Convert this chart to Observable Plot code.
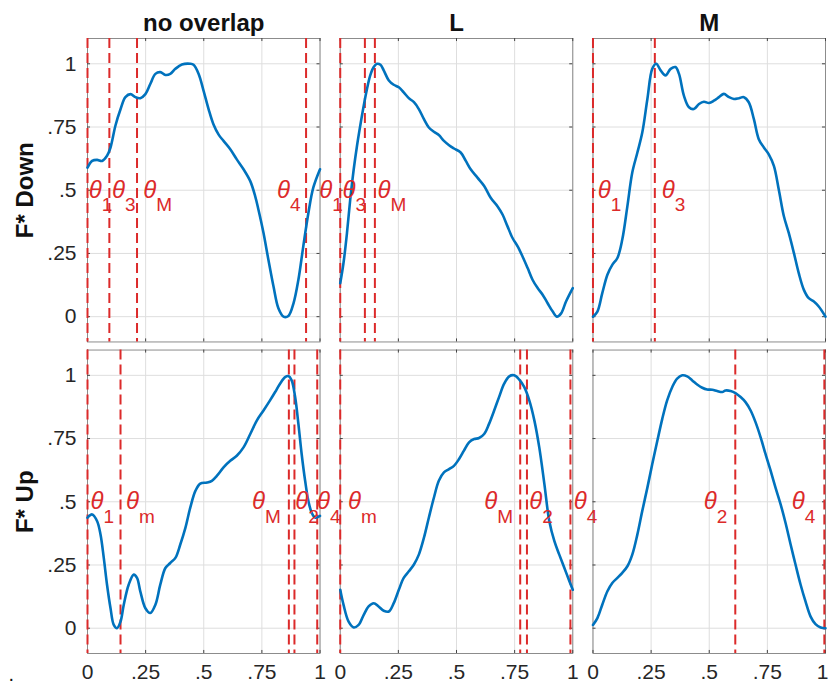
<!DOCTYPE html>
<html><head><meta charset="utf-8">
<script src="https://cdn.jsdelivr.net/npm/d3@7"></script>
<script src="https://cdn.jsdelivr.net/npm/@observablehq/plot@0.6"></script>
<style>body{margin:0;background:#fff} #chart{width:829px;height:688px}</style>
</head><body><div id="chart"></div>
<script>
// ---- categories ----
const cols = ["no overlap", "L", "M"];
const rows = ["F* Down", "F* Up"];

// ---- ticks ----
const xTicks = [0, 0.25, 0.5, 0.75, 1];
const xTickLabels = ["0", ".25", ".5", ".75", "1"];
const yTicks = [0, 0.25, 0.5, 0.75, 1];
const yTickLabels = ["0", ".25", ".5", ".75", "1"];
const xDomain = [0, 1];
const yDomain = [-0.1, 1.1];

// ---- curves (normalized force vs normalized angle) ----
const noOverlapDownX = [0,0.02,0.041,0.063,0.084,0.099,0.12,0.142,0.163,0.185,0.206,0.227,0.249,0.27,0.292,0.313,0.335,0.356,0.378,0.406,0.442,0.456,0.478,0.499,0.521,0.542,0.564,0.585,0.614,0.642,0.671,0.7,0.721,0.735,0.757,0.778,0.8,0.821,0.843,0.864,0.886,0.907,0.928,0.95,0.971,1];
const noOverlapDownY = [0.589,0.616,0.62,0.616,0.636,0.669,0.755,0.82,0.868,0.88,0.868,0.864,0.88,0.92,0.96,0.967,0.956,0.96,0.98,0.997,1.0,0.996,0.96,0.894,0.82,0.76,0.72,0.695,0.662,0.622,0.583,0.536,0.477,0.424,0.331,0.225,0.119,0.033,0.0,0.003,0.053,0.146,0.278,0.41,0.51,0.583];

const lDownX = [0,0.014,0.029,0.043,0.058,0.072,0.086,0.101,0.115,0.129,0.144,0.158,0.173,0.187,0.209,0.23,0.252,0.273,0.295,0.317,0.338,0.36,0.381,0.403,0.424,0.446,0.468,0.489,0.518,0.54,0.561,0.59,0.619,0.647,0.676,0.698,0.719,0.741,0.763,0.784,0.806,0.827,0.849,0.871,0.892,0.914,0.932,0.95,0.971,1];
const lDownY = [0.132,0.212,0.331,0.464,0.583,0.675,0.755,0.834,0.9,0.954,0.987,1.0,0.996,0.974,0.934,0.917,0.907,0.887,0.864,0.848,0.821,0.781,0.748,0.731,0.718,0.695,0.678,0.665,0.649,0.616,0.583,0.55,0.517,0.47,0.437,0.404,0.358,0.311,0.278,0.238,0.192,0.146,0.113,0.086,0.053,0.02,0,0.013,0.06,0.113];

const mDownX = [0,0.019,0.04,0.062,0.083,0.105,0.126,0.148,0.169,0.191,0.212,0.234,0.255,0.272,0.291,0.312,0.334,0.355,0.37,0.391,0.413,0.434,0.456,0.477,0.499,0.52,0.542,0.563,0.585,0.606,0.628,0.649,0.67,0.692,0.713,0.735,0.756,0.778,0.799,0.821,0.842,0.864,0.885,0.907,0.928,0.95,0.971,1];
const mDownY = [0,0.02,0.093,0.166,0.205,0.232,0.305,0.437,0.57,0.649,0.728,0.861,0.98,1,0.974,0.954,0.98,0.987,0.96,0.874,0.828,0.821,0.841,0.85,0.845,0.854,0.868,0.881,0.868,0.861,0.864,0.868,0.848,0.781,0.702,0.669,0.642,0.596,0.503,0.397,0.331,0.252,0.172,0.106,0.073,0.06,0.04,0];

const noOverlapUpX = [0,0.02,0.041,0.056,0.07,0.084,0.099,0.113,0.127,0.142,0.156,0.177,0.199,0.213,0.227,0.249,0.27,0.292,0.313,0.335,0.356,0.378,0.399,0.421,0.442,0.464,0.485,0.514,0.535,0.557,0.585,0.614,0.642,0.671,0.7,0.728,0.757,0.785,0.807,0.828,0.85,0.864,0.878,0.893,0.907,0.921,0.936,0.95,0.964,0.979,1];
const noOverlapUpY = [0.437,0.45,0.424,0.371,0.278,0.172,0.079,0.013,0,0.026,0.093,0.172,0.212,0.199,0.146,0.079,0.06,0.093,0.172,0.238,0.258,0.278,0.331,0.397,0.477,0.543,0.572,0.576,0.583,0.603,0.636,0.662,0.682,0.715,0.768,0.821,0.861,0.901,0.934,0.967,0.993,0.997,0.98,0.914,0.808,0.689,0.583,0.503,0.457,0.437,0.444];

const lUpX = [0,0.014,0.036,0.058,0.079,0.101,0.122,0.144,0.165,0.187,0.209,0.23,0.252,0.273,0.295,0.317,0.338,0.36,0.381,0.403,0.424,0.446,0.468,0.489,0.511,0.532,0.554,0.576,0.597,0.619,0.64,0.662,0.683,0.705,0.727,0.748,0.77,0.791,0.813,0.835,0.856,0.878,0.899,0.921,0.942,0.964,0.986,1];
const lUpY = [0.152,0.093,0.026,0.003,0.013,0.053,0.086,0.099,0.086,0.069,0.066,0.099,0.152,0.199,0.225,0.252,0.291,0.358,0.437,0.517,0.583,0.616,0.629,0.642,0.669,0.702,0.735,0.748,0.752,0.768,0.808,0.861,0.914,0.967,0.996,1,0.983,0.954,0.901,0.821,0.715,0.57,0.424,0.344,0.291,0.238,0.185,0.152];

const mUpX = [0,0.019,0.04,0.062,0.083,0.105,0.126,0.148,0.169,0.191,0.212,0.234,0.255,0.277,0.298,0.319,0.341,0.362,0.384,0.405,0.427,0.448,0.47,0.491,0.513,0.534,0.556,0.57,0.592,0.613,0.635,0.656,0.678,0.699,0.721,0.742,0.764,0.785,0.807,0.828,0.85,0.871,0.893,0.914,0.936,0.957,0.979,1];
const mUpY = [0.013,0.04,0.093,0.146,0.179,0.199,0.219,0.245,0.291,0.371,0.464,0.556,0.649,0.742,0.828,0.901,0.954,0.987,1,0.996,0.98,0.964,0.951,0.944,0.943,0.938,0.934,0.94,0.938,0.93,0.914,0.894,0.861,0.815,0.755,0.689,0.623,0.556,0.49,0.417,0.331,0.252,0.172,0.106,0.046,0.016,0.003,0];

// ---- theta event lines ----
const thetaLineCol = ["no overlap","no overlap","no overlap","no overlap","L","L","L","M","M","no overlap","no overlap","no overlap","no overlap","no overlap","L","L","L","L","M","M"];
const thetaLineRow = ["F* Down","F* Down","F* Down","F* Down","F* Down","F* Down","F* Down","F* Down","F* Down","F* Up","F* Up","F* Up","F* Up","F* Up","F* Up","F* Up","F* Up","F* Up","F* Up","F* Up"];
const thetaLineX   = [0,0.094,0.213,0.94, 0,0.106,0.149, 0,0.266, 0,0.142,0.866,0.89,0.988, 0,0.774,0.803,0.99, 0.612,0.995];

// ---- theta labels ----
const thetaLabelCol = ["no overlap","no overlap","no overlap","no overlap","no overlap","L","L","M","M","no overlap","no overlap","no overlap","no overlap","no overlap","L","L","L","L","M","M"];
const thetaLabelRow = ["F* Down","F* Down","F* Down","F* Down","F* Down","F* Down","F* Down","F* Down","F* Down","F* Up","F* Up","F* Up","F* Up","F* Up","F* Up","F* Up","F* Up","F* Up","F* Up","F* Up"];
const thetaLabelX   = [0.005,0.105,0.24,0.815,0.997, 0.01,0.16, 0.021,0.296, 0.013,0.166,0.707,0.893,0.987, 0.033,0.619,0.813,1.004, 0.476,0.855];
const thetaLabelSub = ["1","3","M","4","1", "3","M", "1","3", "1","m","M","2","4", "m","M","2","4", "2","4"];
const thetaLabelY = 0.5;

// ---- build tables ----
const panelSeries = [
  ["no overlap","F* Down",noOverlapDownX,noOverlapDownY],
  ["L","F* Down",lDownX,lDownY],
  ["M","F* Down",mDownX,mDownY],
  ["no overlap","F* Up",noOverlapUpX,noOverlapUpY],
  ["L","F* Up",lUpX,lUpY],
  ["M","F* Up",mUpX,mUpY]
];
const curves = panelSeries.flatMap(([col,row,xs,ys]) =>
  xs.map((x,i) => ({col, row, key: col + "|" + row, x, y: ys[i]})));
const lines = thetaLineX.map((x,i) => ({col: thetaLineCol[i], row: thetaLineRow[i], x}));
const labels = thetaLabelX.map((x,i) => ({col: thetaLabelCol[i], row: thetaLabelRow[i], x, y: thetaLabelY, sub: thetaLabelSub[i]}));
const xTickTable = cols.flatMap(col => xTicks.map((t,i) => ({col, t, label: xTickLabels[i]})));
const isEdgeTick = d => d.col === cols[cols.length - 1] && d.t === xTicks[xTicks.length - 1];

const red = "#dc2a2a";
const blue = "#0072BD";
const tickFmtY = d => yTickLabels[yTicks.indexOf(d)];

const chart = Plot.plot({
  width: 829, height: 688,
  marginLeft: 87, marginRight: 4, marginTop: 38, marginBottom: 35,
  facet: {marginTop: 0, marginRight: 0, marginBottom: 0, marginLeft: 0},
  fx: {domain: cols, paddingInner: 0.08, paddingOuter: 0, axis: null, round: false},
  fy: {domain: rows, paddingInner: 0.026, paddingOuter: 0, axis: null, round: false},
  x: {domain: xDomain, axis: null},
  y: {domain: yDomain},
  style: {fontFamily: "'Liberation Sans', Arial, sans-serif", fontSize: "21px", color: "#262626", background: "#fff", overflow: "visible"},
  marks: [
    Plot.gridX(xTicks, {stroke: "#dedede", strokeOpacity: 1}),
    Plot.gridY(yTicks, {stroke: "#dedede", strokeOpacity: 1}),
    Plot.frame({stroke: "#8c8c8c"}),
    Plot.ruleY(yTicks, {x1: xDomain[0], x2: xDomain[0] + 0.013, stroke: "#444"}),
    Plot.ruleY(yTicks, {x1: xDomain[1] - 0.013, x2: xDomain[1], stroke: "#444"}),
    Plot.ruleX(xTicks, {y1: yDomain[1], y2: yDomain[1] - 0.012, stroke: "#444"}),
    Plot.ruleX(xTicks, {y1: yDomain[0], y2: yDomain[0] + 0.012, stroke: "#444"}),
    Plot.ruleX(lines, {x: "x", fx: "col", fy: "row", stroke: red, strokeWidth: 2, strokeDasharray: "10,5"}),
    Plot.line(curves, {x: "x", y: "y", fx: "col", fy: "row", z: "key", stroke: blue, strokeWidth: 2.6, curve: "catmull-rom"}),
    Plot.text(labels, {x: "x", y: "y", fx: "col", fy: "row", text: () => "θ", textAnchor: "start", lineAnchor: "middle", dy: 0, fill: red, fontSize: 24, fontStyle: "italic"}),
    Plot.text(labels, {x: "x", y: "y", fx: "col", fy: "row", text: "sub", textAnchor: "start", lineAnchor: "middle", dx: 13, dy: 15, fill: red, fontSize: 19}),
    // x tick labels (bottom row only)
    Plot.text(xTickTable, {filter: d => !isEdgeTick(d), x: "t", fx: "col", fy: () => rows[1], text: "label", frameAnchor: "bottom", textAnchor: "middle", lineAnchor: "top", dy: 11, fontSize: 21, fill: "#262626"}),
    Plot.text(xTickTable, {filter: isEdgeTick, x: "t", fx: "col", fy: () => rows[1], text: "label", frameAnchor: "bottom", textAnchor: "end", lineAnchor: "top", dx: 3, dy: 11, fontSize: 21, fill: "#262626"}),
    Plot.axisY({ticks: yTicks, tickFormat: tickFmtY, tickSize: 0, tickPadding: 11, label: null, anchor: "left", fontSize: 21}),
    Plot.text(cols, {fx: d => d, fy: () => rows[0], text: d => d, frameAnchor: "top", lineAnchor: "bottom", dy: -8, fontWeight: "bold", fontSize: 24, fill: "#111"}),
    Plot.text(rows, {fy: d => d, fx: () => cols[0], text: d => d, frameAnchor: "left", textAnchor: "middle", lineAnchor: "middle", dx: -62, rotate: -90, fontWeight: "bold", fontSize: 24, fill: "#111"}),
    Plot.text(["."], {fx: () => cols[0], fy: () => rows[1], text: d => d, frameAnchor: "bottom-left", textAnchor: "start", lineAnchor: "bottom", dx: -79, dy: 27, fontSize: 20, fill: "#111"})
  ]
});
document.getElementById("chart").appendChild(chart);
</script>
</body></html>
